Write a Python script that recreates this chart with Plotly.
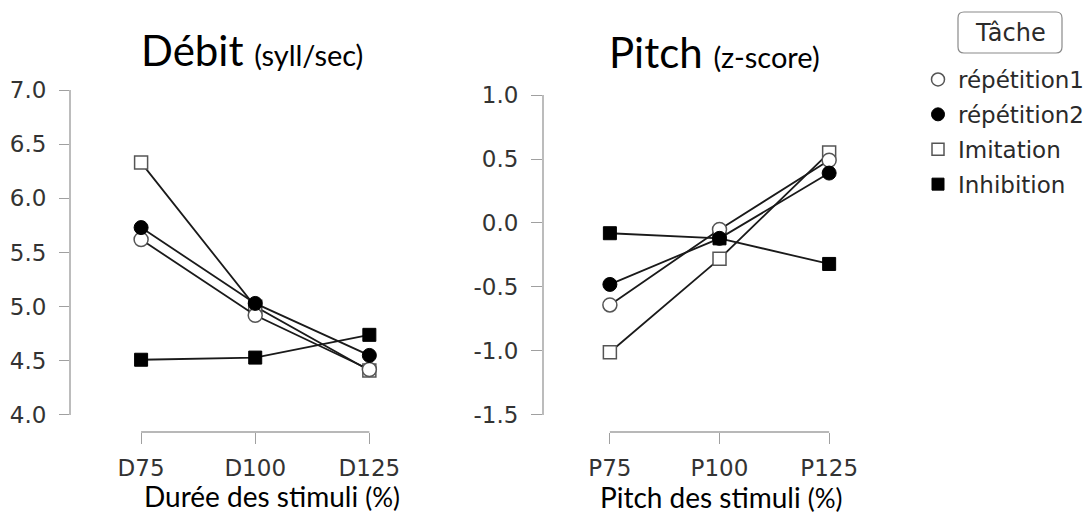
import plotly.graph_objects as go

# page body has an 8px margin; work in reference pixel coordinates and convert
OFF = 8
W, H = 1091 - OFF, 514 - OFF

# ---- data ----
cats_dur = ["D75", "D100", "D125"]
cats_pitch = ["P75", "P100", "P125"]
series_names = ["répétition1", "répétition2", "Imitation", "Inhibition"]

debit_rep1 = [5.62, 4.92, 4.42]
debit_rep2 = [5.73, 5.03, 4.55]
debit_imit = [6.33, 5.00, 4.41]
debit_inhib = [4.51, 4.53, 4.74]

pitch_rep1 = [-0.64, -0.05, 0.49]
pitch_rep2 = [-0.48, -0.12, 0.39]
pitch_imit = [-1.01, -0.28, 0.55]
pitch_inhib = [-0.08, -0.12, -0.32]

yticks_debit = [4.0, 4.5, 5.0, 5.5, 6.0, 6.5, 7.0]
yticks_pitch = [-1.5, -1.0, -0.5, 0.0, 0.5, 1.0]

# ---- styles ----
styles = {
    "répétition1": dict(symbol="circle", color="white", line=dict(color="#555555", width=1.5), size=14),
    "répétition2": dict(symbol="circle", color="black", line=dict(color="black", width=1), size=14),
    "Imitation": dict(symbol="square", color="white", line=dict(color="#555555", width=1.5), size=13),
    "Inhibition": dict(symbol="square", color="black", line=dict(color="black", width=1), size=13),
}

fig = go.Figure()

debit = dict(zip(series_names, [debit_rep1, debit_rep2, debit_imit, debit_inhib]))
pitch = dict(zip(series_names, [pitch_rep1, pitch_rep2, pitch_imit, pitch_inhib]))

draw_order = ["Inhibition", "Imitation", "répétition1", "répétition2"]
for name in draw_order:
    fig.add_trace(go.Scatter(x=cats_dur, y=debit[name], mode="lines+markers",
                             line=dict(color="#1a1a1a", width=1.8),
                             marker=styles[name], showlegend=False,
                             cliponaxis=False, xaxis="x", yaxis="y"))
    fig.add_trace(go.Scatter(x=cats_pitch, y=pitch[name], mode="lines+markers",
                             line=dict(color="#1a1a1a", width=1.8),
                             marker=styles[name], showlegend=False,
                             cliponaxis=False, xaxis="x2", yaxis="y2"))

# legend-only traces
for name in series_names:
    m = dict(styles[name])
    m["size"] = m["size"] - 1
    fig.add_trace(go.Scatter(x=[None], y=[None], mode="markers", name=name,
                             marker=m, legendgroup=name, showlegend=True,
                             xaxis="x", yaxis="y"))

sansfont = "DejaVu Sans, Liberation Sans, sans-serif"
tickfont = dict(family=sansfont, size=23, color="#333333")
axcol = "#a0a0a0"


def px_x(p):
    return (p - OFF) / W


def px_y(p):
    return (H - (p - OFF)) / H


fig.update_layout(
    template="none",
    width=W, height=H,
    paper_bgcolor="white", plot_bgcolor="white",
    margin=dict(l=0, r=0, t=0, b=0, autoexpand=False),
    xaxis=dict(domain=[px_x(70), px_x(415)], type="category", categoryarray=cats_dur,
               range=[-0.623, 2.4], showgrid=False, zeroline=False, showline=False,
               ticks="outside", ticklen=11, tickcolor=axcol, tickwidth=1.4,
               tickfont=tickfont, ticklabelstandoff=4, anchor="y", automargin=False),
    yaxis=dict(domain=[px_y(432), px_y(90)], range=[3.843, 7.0], tickvals=yticks_debit,
               ticktext=[f"{v:.1f}" for v in yticks_debit],
               showgrid=False, zeroline=False, showline=False,
               ticks="outside", ticklen=10, tickcolor=axcol, tickwidth=1.4,
               tickfont=tickfont, ticklabelstandoff=8, anchor="x", automargin=False),
    xaxis2=dict(domain=[px_x(543), px_x(873)], type="category", categoryarray=cats_pitch,
                range=[-0.61, 2.4], showgrid=False, zeroline=False, showline=False,
                ticks="outside", ticklen=11, tickcolor=axcol, tickwidth=1.4,
                tickfont=tickfont, ticklabelstandoff=4, anchor="y2", automargin=False),
    yaxis2=dict(domain=[px_y(432), px_y(95)], range=[-1.633, 1.0], tickvals=yticks_pitch,
                ticktext=[f"{v:.1f}" for v in yticks_pitch],
                showgrid=False, zeroline=False, showline=False,
                ticks="outside", ticklen=11, tickcolor=axcol, tickwidth=1.4,
                tickfont=tickfont, ticklabelstandoff=8, anchor="x2", automargin=False),
    legend=dict(x=px_x(918), y=px_y(58), xanchor="left", yanchor="top",
                font=dict(family=sansfont, size=23, color="#2a2a2a"),
                tracegroupgap=2, bgcolor="rgba(0,0,0,0)", itemwidth=30),
    showlegend=True,
)

# axis lines (R-style, detached)
fig.add_shape(type="line", xref="x domain", yref="y", x0=0, x1=0, y0=yticks_debit[0], y1=yticks_debit[-1],
              line=dict(color=axcol, width=1.4))
fig.add_shape(type="line", xref="x", yref="y domain", x0=0, x1=len(cats_dur) - 1, y0=0, y1=0,
              line=dict(color=axcol, width=1.4))
fig.add_shape(type="line", xref="x2 domain", yref="y2", x0=0, x1=0, y0=yticks_pitch[0], y1=yticks_pitch[-1],
              line=dict(color=axcol, width=1.4))
fig.add_shape(type="line", xref="x2", yref="y2 domain", x0=0, x1=len(cats_pitch) - 1, y0=0, y1=0,
              line=dict(color=axcol, width=1.4))

titlefont = "Lato, Open Sans, sans-serif"
fig.add_annotation(xref="paper", yref="paper", x=px_x(252), y=px_y(50), xanchor="center", yanchor="middle",
                   text="Débit <span style='font-size:29px'>(syll/sec)</span>", showarrow=False,
                   font=dict(family=titlefont, size=42, color="black"))
fig.add_annotation(xref="paper", yref="paper", x=px_x(714), y=px_y(52), xanchor="center", yanchor="middle",
                   text="Pitch <span style='font-size:29px'>(z-score)</span>", showarrow=False,
                   font=dict(family=titlefont, size=42, color="black"))
fig.add_annotation(xref="paper", yref="paper", x=px_x(272), y=px_y(496), xanchor="center", yanchor="middle",
                   text="Durée des stimuli <span style='font-size:26px'>(%)</span>", showarrow=False,
                   font=dict(family=titlefont, size=28, color="black"))
fig.add_annotation(xref="paper", yref="paper", x=px_x(721), y=px_y(497), xanchor="center", yanchor="middle",
                   text="Pitch des stimuli <span style='font-size:26px'>(%)</span>", showarrow=False,
                   font=dict(family=titlefont, size=28, color="black"))

# legend title box (rounded)
bx0, bx1, by0, by1, r = 958, 1062, 12, 53, 6
X = lambda p: px_x(p)
Y = lambda p: px_y(p)
path = (f"M {X(bx0 + r)} {Y(by0)} L {X(bx1 - r)} {Y(by0)} Q {X(bx1)} {Y(by0)} {X(bx1)} {Y(by0 + r)} "
        f"L {X(bx1)} {Y(by1 - r)} Q {X(bx1)} {Y(by1)} {X(bx1 - r)} {Y(by1)} "
        f"L {X(bx0 + r)} {Y(by1)} Q {X(bx0)} {Y(by1)} {X(bx0)} {Y(by1 - r)} "
        f"L {X(bx0)} {Y(by0 + r)} Q {X(bx0)} {Y(by0)} {X(bx0 + r)} {Y(by0)} Z")
fig.add_shape(type="path", xref="paper", yref="paper", path=path,
              line=dict(color="#8a8a8a", width=1.2), fillcolor="white")
fig.add_annotation(xref="paper", yref="paper", x=px_x(1010), y=px_y(33), xanchor="center", yanchor="middle",
                   text="Tâche", showarrow=False,
                   font=dict(family=sansfont, size=24, color="#2a2a2a"))

fig.write_html("out.html")
